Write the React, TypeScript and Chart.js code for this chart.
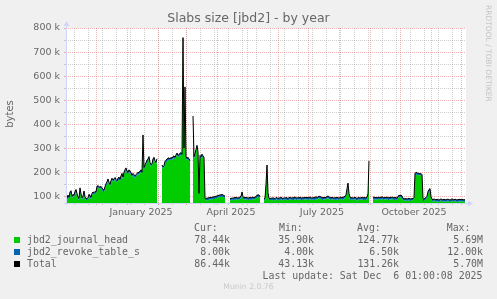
import React, { useEffect, useRef } from "react";
import { Chart, registerables } from "chart.js";

Chart.register(...registerables);

// Day 0 of the x axis is 1 Nov 2024; one value per day (in thousands of bytes)
const START_YEAR = 2024;
const START_MONTH = 10;

const journalHead: (number | null)[] = [
  78, 80, 97, 90, 110, 113, 92, 102, 96, 110, 120, 104, 90, 84, 125, 102, 86, 94, 114, 90,
  84, 84, 87, 100, 94, 88, 104, 112, 107, 112, 108, 134, 136, 132, 132, 133, 127, 118, 118, 132,
  144, 152, 166, 150, 142, 155, 167, 160, 164, 172, 162, 157, 167, 170, 162, 177, 189, 172, 192, 202,
  210, 195, 192, 202, 199, 190, 180, 187, 180, 177, 182, 189, 192, 190, 197, 200, 192, 347, 212, 224,
  232, 242, 245, 257, 232, 224, 229, 247, 254, 240, 232, 248, null, null, null, null, 222, 214, 222, 237,
  242, 245, 250, 252, 249, 254, 250, 257, 258, 254, 264, 274, 262, 267, 270, 272, 267, 752, 292, 547,
  257, 252, 254, 247, 240, null, null, 426, 257, 270, 289, 304, 277, 104, 260, 257, 267, 262, 254, 84,
  82, 85, 82, 87, 86, 90, 87, 90, 89, 89, 92, 93, 95, 98, 98, 97, 98, 97, 95, 92,
  null, null, null, null, 84, 82, 87, 83, 87, 83, 88, 86, 84, 89, 89, 92, 108, 90, 86, 88,
  87, 87, 84, 86, 86, 85, 87, 89, 88, 88, 92, 94, 98, 97, 92, null, null, null, 82, 84,
  142, 220, 107, 84, 84, 85, 83, 84, 84, 82, 87, 87, 83, 86, 82, 88, 85, 82, 88, 84,
  87, 83, 83, 86, 88, 86, 86, 85, 85, 89, 86, 84, 89, 85, 88, 84, 84, 87, 85, 90,
  86, 88, 83, 87, 89, 86, 86, 87, 85, 86, 90, 87, 89, 94, 91, 89, 85, 85, 88, 86,
  90, 91, 93, 88, 87, 85, 88, 88, 84, 87, 83, 88, 86, 84, 89, 89, 86, 86, 90, 92,
  97, 126, 147, 104, 86, 85, 87, 84, 88, 88, 85, 81, 86, 87, 84, 88, 88, 85, 85, 86,
  85, 88, 104, 239, null, null, null, 87, 87, 86, 88, 85, 89, 89, 86, 86, 90, 87, 85, 90,
  86, 89, 85, 85, 88, 86, 91, 87, 85, 86, 86, 84, 92, 98, 95, 97, 91, 84, 82, 81,
  85, 80, 82, 82, 81, 80, 83, 84, 87, 187, 190, 190, 187, 188, 186, 187, 182, 80, 80, 84,
  87, 94, 112, 120, 122, 90, 80, 78, 83, 79, 77, 78, 78, 76, 79, 83, 78, 77, 78, 78,
  77, 79, 82, 78, 76, 77, 81, 78, 77, 82, 78, 76, 77, 78, 80, 77, 81, 78, 77, 78.44,
];

const revokeTable: (number | null)[] = [
  10, 12, 8, 6, 8, 10, 8, 6, 8, 10, 8, 8, 6, 8, 10, 8, 8, 6, 8, 8,
  8, 6, 8, 8, 10, 8, 8, 6, 8, 8, 10, 8, 8, 8, 6, 8, 8, 10, 8, 8,
  8, 8, 6, 8, 8, 10, 8, 8, 8, 6, 8, 8, 8, 10, 8, 8, 6, 8, 8, 8,
  8, 10, 8, 8, 6, 8, 8, 8, 10, 8, 8, 6, 8, 8, 8, 10, 8, 8, 8, 6,
  8, 8, 10, 8, 8, 8, 6, 8, 8, 8, 10, 8, null, null, null, null, 8, 8, 6, 8,
  8, 10, 8, 8, 6, 8, 8, 8, 10, 8, 8, 6, 8, 8, 8, 10, 8, 8, 8, 8,
  8, 6, 8, 8, 10, null, null, 8, 8, 8, 6, 8, 8, 8, 10, 8, 8, 6, 8, 8,
  8, 8, 10, 8, 8, 6, 8, 8, 8, 10, 8, 8, 8, 6, 8, 8, 10, 8, 8, 8,
  null, null, null, null, 8, 8, 6, 8, 8, 10, 8, 8, 8, 6, 8, 8, 10, 8, 8, 8,
  6, 8, 8, 8, 10, 8, 8, 8, 6, 8, 8, 10, 8, 8, 8, null, null, null, 8, 8,
  8, 10, 8, 8, 6, 8, 8, 10, 8, 8, 8, 6, 8, 8, 10, 8, 8, 8, 6, 8,
  8, 10, 8, 8, 8, 6, 8, 8, 10, 8, 8, 8, 6, 8, 8, 10, 8, 8, 8, 6,
  8, 8, 10, 8, 8, 8, 6, 8, 8, 10, 8, 8, 8, 6, 8, 8, 10, 8, 8, 8,
  6, 8, 8, 10, 8, 8, 8, 6, 8, 8, 10, 8, 8, 8, 6, 8, 8, 10, 8, 8,
  8, 6, 8, 8, 10, 8, 8, 8, 6, 8, 8, 10, 8, 8, 8, 6, 8, 8, 10, 8,
  8, 8, 6, 8, null, null, null, 8, 10, 8, 8, 8, 6, 8, 8, 10, 8, 8, 8, 6,
  8, 8, 10, 8, 8, 8, 6, 8, 8, 10, 8, 8, 8, 6, 8, 8, 10, 8, 8, 8,
  6, 8, 8, 10, 8, 8, 8, 6, 8, 8, 10, 8, 8, 8, 6, 8, 8, 10, 8, 8,
  8, 6, 8, 8, 10, 8, 8, 8, 6, 8, 8, 10, 8, 8, 8, 6, 8, 8, 10, 8,
  8, 8, 6, 8, 8, 10, 8, 8, 8, 6, 8, 8, 10, 8, 8, 8, 6, 8, 8, 8,
];

const yTicksK = [100, 200, 300, 400, 500, 600, 700, 800];
const yMinorK = [150, 250, 350, 450, 550, 650, 750];
const xLabels = ["January 2025", "April 2025", "July 2025", "October 2025"];
const xLabelMonths: [number, number][] = [[2025, 0], [2025, 3], [2025, 6], [2025, 9]];

const seriesNames = ["jbd2_journal_head", "jbd2_revoke_table_s", "Total"];
const seriesColors = ["#00CC00", "#0066B3", "#000000"];
const curValues = ["78.44k", "8.00k", "86.44k"];
const minValues = ["35.90k", "4.00k", "43.13k"];
const avgValues = ["124.77k", "6.50k", "131.26k"];
const maxValues = ["5.69M", "12.00k", "5.70M"];

const TITLE = "Slabs size [jbd2] - by year";
const Y_TITLE = "bytes";
const LAST_UPDATE = "Last update: Sat Dec  6 01:00:08 2025";
const WATERMARK = "Munin 2.0.76";
const SIDE_TEXT = "RRDTOOL / TOBI OETIKER";

const DAY_MS = 86400000;
const dayOf = (y: number, m: number, d = 1) =>
  Math.round((Date.UTC(y, m, d) - Date.UTC(START_YEAR, START_MONTH, 1)) / DAY_MS);

const monthStarts: number[] = [];
for (let i = 0; i < 14; i++) monthStarts.push(dayOf(START_YEAR, START_MONTH + i));
const weekLines: number[] = [];
for (let d = 8; d < 400; d += 14) weekLines.push(d);
const xLabelDays = xLabelMonths.map(([y, m]) => dayOf(y, m, 15));

const FONT = "#666666";

const rrdPlugin = {
  id: "rrd",
  beforeDraw(chart: any) {
    const { ctx, chartArea: a, width, height } = chart;
    ctx.save();
    ctx.fillStyle = "#F0F0F0";
    ctx.fillRect(0, 0, width, height);
    ctx.fillStyle = "#FFFFFF";
    ctx.fillRect(a.left, a.top, a.right - a.left, a.bottom - a.top);
    ctx.restore();
  },
  beforeDatasetsDraw(chart: any) {
    const { ctx, chartArea: a, scales } = chart;
    const x = scales.x, y = scales.y;
    ctx.save();
    ctx.lineWidth = 1;
    const vline = (d: number, color: string) => {
      const px = Math.round(x.getPixelForValue(d)) + 0.5;
      ctx.strokeStyle = color;
      ctx.setLineDash([1, 1]);
      ctx.beginPath(); ctx.moveTo(px, a.top); ctx.lineTo(px, a.bottom); ctx.stroke();
      ctx.setLineDash([]);
      ctx.beginPath(); ctx.moveTo(px, a.bottom); ctx.lineTo(px, a.bottom + 2); ctx.stroke();
    };
    const hline = (v: number, color: string) => {
      const py = Math.round(y.getPixelForValue(v)) + 0.5;
      ctx.strokeStyle = color;
      ctx.setLineDash([1, 1]);
      ctx.beginPath(); ctx.moveTo(a.left, py); ctx.lineTo(a.right, py); ctx.stroke();
      ctx.setLineDash([]);
      ctx.beginPath(); ctx.moveTo(a.left - 2, py); ctx.lineTo(a.left, py); ctx.stroke();
    };
    const minor = "rgba(143,143,143,0.42)";
    const major = "rgba(222,79,79,0.42)";
    weekLines.forEach((d) => vline(d, minor));
    yMinorK.forEach((v) => hline(v * 1000, minor));
    monthStarts.filter((d) => d > 0 && d < 400).forEach((d) => vline(d, major));
    yTicksK.forEach((v) => hline(v * 1000, major));
    ctx.restore();
  },
  afterDraw(chart: any) {
    const { ctx, chartArea: a } = chart;
    ctx.save();
    // axes
    ctx.strokeStyle = "#CFD6F8";
    ctx.fillStyle = "#CFD6F8";
    ctx.lineWidth = 1;
    const ax = a.left + 0.5;
    const ay = a.bottom + 0.5;
    ctx.beginPath(); ctx.moveTo(ax, a.bottom + 2); ctx.lineTo(ax, a.top - 3); ctx.stroke();
    ctx.beginPath(); ctx.moveTo(a.left - 2, ay); ctx.lineTo(a.right + 3, ay); ctx.stroke();
    ctx.beginPath(); ctx.moveTo(ax - 3, a.top - 2); ctx.lineTo(ax + 3, a.top - 2); ctx.lineTo(ax, a.top - 7); ctx.closePath(); ctx.fill();
    ctx.beginPath(); ctx.moveTo(a.right + 2, ay - 3); ctx.lineTo(a.right + 2, ay + 3); ctx.lineTo(a.right + 7, ay); ctx.closePath(); ctx.fill();
    // title
    ctx.fillStyle = FONT;
    ctx.font = '12.5px "DejaVu Sans"';
    ctx.textAlign = "center";
    ctx.textBaseline = "middle";
    ctx.fillText(TITLE, 248.5, 19);
    // y title
    ctx.save();
    ctx.translate(10.5, 114);
    ctx.rotate(-Math.PI / 2);
    ctx.font = '10px "DejaVu Sans"';
    ctx.fillText(Y_TITLE, 0, 0);
    ctx.restore();
    // side text
    ctx.save();
    ctx.translate(488, 5);
    ctx.rotate(Math.PI / 2);
    ctx.fillStyle = "#C4C4C4";
    ctx.font = '7.5px "DejaVu Sans"';
    ctx.textAlign = "left";
    ctx.fillText(SIDE_TEXT, 0, 0);
    ctx.restore();
    ctx.restore();
  },
};

function App() {
  const ref = useRef<HTMLCanvasElement | null>(null);

  useEffect(() => {
    document.body.style.margin = "0";
    const canvas = ref.current!;
    const greenPts = journalHead.map((v, i) => ({ x: i, y: v === null ? null : v * 1000 }));
    const totalPts = journalHead.map((v, i) => {
      const b = revokeTable[i];
      return { x: i, y: v === null || b === null ? null : (v + b) * 1000 };
    });
    const chart = new Chart(canvas, {
      type: "line",
      data: {
        datasets: [
          {
            label: seriesNames[0],
            data: greenPts as any,
            fill: "start",
            backgroundColor: seriesColors[0],
            borderWidth: 0,
            pointRadius: 0,
            tension: 0,
            spanGaps: false,
            order: 3,
          },
          {
            label: seriesNames[1],
            data: totalPts as any,
            fill: "-1",
            backgroundColor: seriesColors[1],
            borderWidth: 0,
            pointRadius: 0,
            tension: 0,
            spanGaps: false,
            order: 2,
          },
          {
            label: seriesNames[2],
            data: totalPts as any,
            fill: false,
            borderColor: seriesColors[2],
            borderWidth: 1,
            pointRadius: 0,
            tension: 0,
            spanGaps: false,
            order: 1,
          },
        ],
      },
      options: {
        animation: false,
        responsive: false,
        devicePixelRatio: 1,
        events: [],
        layout: { padding: { left: 0, right: 31, top: 28, bottom: 76 } },
        plugins: { legend: { display: false }, tooltip: { enabled: false }, title: { display: false } },
        scales: {
          x: {
            type: "linear",
            min: 0,
            max: 400,
            grid: { display: false, drawTicks: false },
            border: { display: false },
            afterBuildTicks: (s: any) => {
              s.ticks = xLabelDays.map((v) => ({ value: v }));
            },
            afterFit: (s: any) => {
              s.height = 20;
            },
            ticks: {
              autoSkip: false,
              maxRotation: 0,
              padding: 4,
              color: FONT,
              font: { family: "DejaVu Sans", size: 9.5 },
              callback: (_v: any, i: number) => xLabels[i],
            },
          },
          y: {
            type: "linear",
            min: 72000,
            max: 800000,
            grid: { display: false, drawTicks: false },
            border: { display: false },
            afterBuildTicks: (s: any) => {
              s.ticks = yTicksK.map((v) => ({ value: v * 1000 }));
            },
            afterFit: (s: any) => {
              s.width = 66;
            },
            ticks: {
              padding: 6,
              color: FONT,
              font: { family: "DejaVu Sans", size: 9.5 },
              callback: (v: any) => `${Math.round(Number(v) / 1000)} k`,
            },
          },
        },
      },
      plugins: [rrdPlugin],
    });
    return () => chart.destroy();
  }, []);

  const mono: React.CSSProperties = {
    position: "absolute",
    font: '9.9px "DejaVu Sans Mono"',
    color: FONT,
    whiteSpace: "pre",
    lineHeight: "12px",
    height: 12,
  };
  const rowY = [240.3, 251.9, 263.5];
  const cols = [
    { head: "Cur:", headLeft: 194, right: 230, vals: curValues },
    { head: "Min:", headLeft: 279, right: 314, vals: minValues },
    { head: "Avg:", headLeft: 357, right: 399, vals: avgValues },
    { head: "Max:", headLeft: 446.7, right: 483, vals: maxValues },
  ];

  return (
    <div style={{ position: "absolute", left: 0, top: 0, width: 497, height: 299, background: "#F0F0F0", overflow: "hidden" }}>
      <canvas ref={ref} width={497} height={299} style={{ position: "absolute", left: 0, top: 0, width: 497, height: 299 }} />
      {cols.map((c) => (
        <div key={c.head} style={{ ...mono, left: c.headLeft, top: 227.7 - 6 }}>{c.head}</div>
      ))}
      {seriesNames.map((n, i) => (
        <React.Fragment key={n}>
          <div style={{ position: "absolute", left: 14, top: rowY[i] - 3, width: 6, height: 6, background: seriesColors[i] }} />
          <div style={{ ...mono, left: 27, top: rowY[i] - 6 }}>{n}</div>
          {cols.map((c) => (
            <div key={c.head} style={{ ...mono, right: 497 - c.right, top: rowY[i] - 6, textAlign: "right" }}>{c.vals[i]}</div>
          ))}
        </React.Fragment>
      ))}
      <div style={{ ...mono, right: 497 - 482.5, top: 275.7 - 6, textAlign: "right" }}>{LAST_UPDATE}</div>
      <div style={{ position: "absolute", left: 0, width: 497, top: 288 - 6, lineHeight: "12px", textAlign: "center", font: '7.7px "DejaVu Sans"', color: "#C8C8C8" }}>{WATERMARK}</div>
    </div>
  );
}

export default App;
